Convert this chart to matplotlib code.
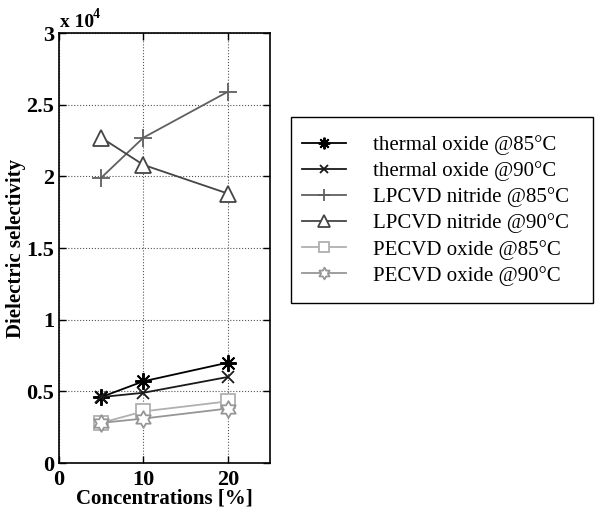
import numpy as np
import matplotlib
matplotlib.use("Agg")
import matplotlib.pyplot as plt
from matplotlib.path import Path
from matplotlib.patches import Rectangle

plt.rcParams['font.family'] = ['Liberation Serif', 'DejaVu Serif']

# Data (dielectric selectivity, in units of 1e4 as on the axis)
conc = [5, 10, 20]
thermal_85 = [0.46, 0.57, 0.70]
thermal_90 = [0.46, 0.49, 0.60]
lpcvd_85 = [1.99, 2.27, 2.59]
lpcvd_90 = [2.27, 2.08, 1.88]
pecvd_85 = [0.28, 0.36, 0.43]
pecvd_90 = [0.28, 0.31, 0.38]

labels = ["thermal oxide @85°C", "thermal oxide @90°C",
          "LPCVD nitride @85°C", "LPCVD nitride @90°C",
          "PECVD oxide @85°C", "PECVD oxide @90°C"]

# six-pointed star outline (MATLAB 'hexagram')
ang = np.pi / 2 + np.arange(12) * np.pi / 6
rad = np.where(np.arange(12) % 2 == 0, 1.0, 1 / np.sqrt(3))
hexagram = Path(np.column_stack([rad * np.cos(ang), rad * np.sin(ang)]).tolist()
                + [[0, 1]], closed=True)

W, H = 595, 511
fig = plt.figure(figsize=(W / 100, H / 100), dpi=100)
ax = fig.add_axes([59 / W, 48 / H, 211 / W, 430 / H])

ax.plot(conc, thermal_85, color='black', lw=1.3, marker=(8, 2, 0), ms=12, mew=1.4,
        label=labels[0])
ax.plot(conc, thermal_90, color='#1a1a1a', lw=1.3, marker='x', ms=9, mew=1.3,
        label=labels[1])
ax.plot(conc, lpcvd_85, color='#606060', lw=1.3, marker='+', ms=13, mew=1.3,
        label=labels[2])
ax.plot(conc, lpcvd_90, color='#454545', lw=1.3, marker='^', ms=12, mew=1.3,
        mfc='white', label=labels[3])
ax.plot(conc, pecvd_85, color='#b0b0b0', lw=1.3, marker='s', ms=10, mew=1.3,
        mfc='white', label=labels[4])
ax.plot(conc, pecvd_90, color='#969696', lw=1.3, marker=hexagram, ms=12, mew=1.3,
        mfc='white', label=labels[5])

ax.set_xlim(0, 25)
ax.set_ylim(0, 3)
ax.set_xticks([0, 10, 20])
ax.set_yticks([0, 0.5, 1, 1.5, 2, 2.5, 3])
ax.set_yticklabels(['0', '0.5', '1', '1.5', '2', '2.5', '3'])
ax.grid(True, linestyle=':', color='#555555', lw=0.8)
ax.tick_params(direction='in', top=True, right=True, labelsize=16, length=5, width=1)
ax.tick_params(axis='x', pad=5)
for lbl in ax.get_xticklabels() + ax.get_yticklabels():
    lbl.set_fontweight('bold')
for sp in ax.spines.values():
    sp.set_linewidth(1.2)

ax.set_xlabel('Concentrations [%]', fontsize=15, fontweight='bold', labelpad=-1)
ax.set_ylabel('Dielectric selectivity', fontsize=15, fontweight='bold', labelpad=0)

fig.text(60 / W, 1 - 27 / H, 'x 10', fontsize=14, fontweight='bold')
fig.text(93 / W, 1 - 18 / H, '4', fontsize=10, fontweight='bold')

# legend box (MATLAB style, wider on the right)
fig.patches.append(Rectangle((291 / W, 1 - 303 / H), 302 / W, 186 / H,
                             transform=fig.transFigure, facecolor='white',
                             edgecolor='black', lw=1.0, zorder=-1))
leg = ax.legend(loc='upper left', bbox_to_anchor=(302 / W, 1 - 135 / H),
                bbox_transform=fig.transFigure, borderaxespad=0, borderpad=0,
                fontsize=15, frameon=False,
                handlelength=2.1, handletextpad=1.3,
                labelspacing=0.3, markerscale=0.7)

fig.savefig('out.png', dpi=100)
